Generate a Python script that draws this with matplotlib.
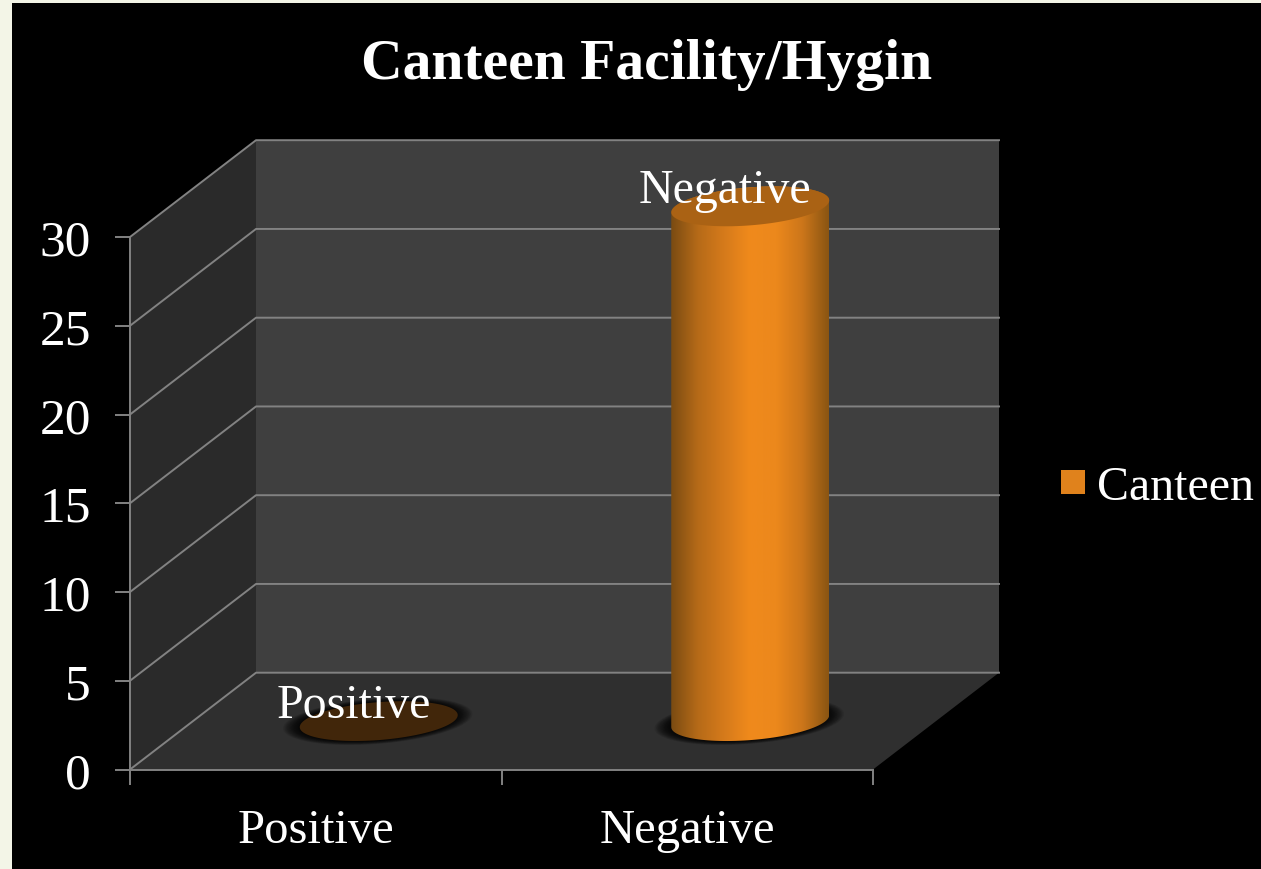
import matplotlib.pyplot as plt
import numpy as np
from matplotlib.colors import LinearSegmentedColormap
from matplotlib.patches import Patch, Polygon, Rectangle

categories = ["Positive", "Negative"]
canteen = [0, 29]
y_ticks = [0, 5, 10, 15, 20, 25, 30]
title = "Canteen Facility/Hygin"
series_name = "Canteen"

plt.rcParams['font.family'] = ['Liberation Serif', 'DejaVu Serif']

W, H = 1261, 870
fig = plt.figure(figsize=(W / 100, H / 100), dpi=100, facecolor='#f3f5e7')
# black slide panel
fig.add_artist(Rectangle((12 / W, 0), 1 - 12 / W, 1 - 4 / H, transform=fig.transFigure,
                         facecolor='black', edgecolor='none', zorder=-5))

ax = fig.add_axes([130 / W, (H - 770.5) / H, 743 / W, 532.5 / H])
ax.patch.set_visible(False)
ax.set_xlim(0, 2)
ax.set_ylim(0, 30)

# pixels to data units
px_x = 2 / 743
px_y = 30 / 532.5
dx = 126 * px_x  # depth of the 3d box
dy = 96.8 * px_y

line_col = '#828282'
line_w = 1.4

# walls
ax.add_patch(Polygon([(dx, dy), (2 + dx, dy), (2 + dx, 30 + dy), (dx, 30 + dy)],
                     facecolor='#3f3f3f', edgecolor='none', clip_on=False, zorder=1))
ax.add_patch(Polygon([(0, 0), (dx, dy), (dx, 30 + dy), (0, 30)],
                     facecolor='#2a2a2a', edgecolor='none', clip_on=False, zorder=1))
ax.add_patch(Polygon([(0, 0), (2, 0), (2 + dx, dy), (dx, dy)],
                     facecolor='#2f2f2f', edgecolor='none', clip_on=False, zorder=1))

# gridlines wrap round the side wall and the back wall
for v in y_ticks:
    ax.plot([0, dx, 2 + dx], [v, v + dy, v + dy], color=line_col, lw=line_w,
            clip_on=False, zorder=2)

a = 79 * px_x
b = 19 * px_y
s = 6 * px_y


def ellipse(cx, cy, t, scale=1.0):
    return np.column_stack([cx + scale * a * np.cos(t),
                            cy + scale * (b * np.sin(t) + s * np.cos(t))])


t_full = np.linspace(0, 2 * np.pi, 120)
cyl_cmap = LinearSegmentedColormap.from_list(
    'cyl', ['#7a4b12', '#b56a18', '#d57a1b', '#f08a1c', '#ec881c', '#cc761a', '#8a5512'])

for i in range(len(categories)):
    cx = i + 0.5 + dx / 2
    base = dy / 2
    top = canteen[i] + dy / 2

    # soft shadow on the floor
    for scale in np.linspace(1.2, 0.95, 26):
        ax.add_patch(Polygon(ellipse(cx - 1 * px_x, base, t_full, scale), facecolor='black',
                             edgecolor='none', alpha=0.06, clip_on=False, zorder=3))

    if canteen[i] > 0:
        side = np.vstack([ellipse(cx, base, np.linspace(np.pi, 2 * np.pi, 60)),
                          ellipse(cx, top, np.linspace(0, np.pi, 60))])
        clip = Polygon(side, transform=ax.transData, facecolor='none', edgecolor='none')
        ax.add_patch(clip)
        im = ax.imshow(np.linspace(0, 1, 256).reshape(1, -1), cmap=cyl_cmap, aspect='auto',
                       interpolation='bilinear', zorder=4,
                       extent=[cx - a, cx + a, base - 2 * b, top + 2 * b])
        im.set_clip_path(clip)
        im.set_clip_box(fig.bbox)  # the cylinder top goes past the axes box
        top_col = '#aa6214'
    else:
        top_col = '#41260a'

    ax.add_patch(Polygon(ellipse(cx, top, t_full), facecolor=top_col, edgecolor='none',
                         clip_on=False, zorder=5))

    ax.annotate(categories[i], (cx, top), xytext=(-25 * 0.72, 16 * 0.72),
                textcoords='offset points', ha='center', va='center', color='white',
                fontsize=34.5, annotation_clip=False, zorder=6)

ax.set_xlim(0, 2)
ax.set_ylim(0, 30)

# axes
for name in ['top', 'right']:
    ax.spines[name].set_visible(False)
for name in ['left', 'bottom']:
    ax.spines[name].set_color(line_col)
    ax.spines[name].set_linewidth(line_w)
    ax.spines[name].set_zorder(3)

ax.set_yticks(y_ticks)
ax.set_xticks([0, 1, 2])
ax.set_xticklabels([])
ax.set_xticks([0.5, 1.5], minor=True)
ax.set_xticklabels(categories, minor=True)
ax.tick_params(axis='x', which='major', length=11, width=line_w, color=line_col)
ax.tick_params(axis='x', which='minor', length=0, pad=28, labelsize=35, labelcolor='white')
ax.tick_params(axis='y', length=11, width=line_w, color=line_col, pad=17,
               labelsize=37, labelcolor='white')

fig.text(647 / W, 1 - 65 / H, title, ha='center', va='center', color='white',
         fontsize=41.5, fontweight='bold')

fig.legend(handles=[Patch(facecolor='#e0821c', edgecolor='none', label=series_name)],
           loc='center left', bbox_to_anchor=(1061 / W, 1 - 488 / H),
           bbox_transform=fig.transFigure, frameon=False, fontsize=34.5, labelcolor='white',
           borderpad=0, borderaxespad=0, handlelength=0.5, handleheight=0.392, handletextpad=0.25)

fig.savefig('out.png', dpi=100, facecolor=fig.get_facecolor())
